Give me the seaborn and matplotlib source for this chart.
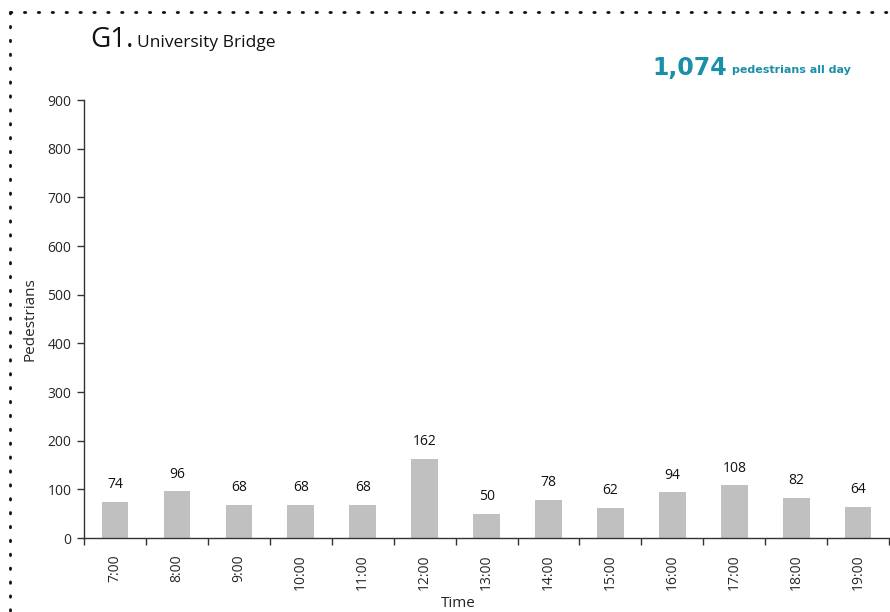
import matplotlib
matplotlib.use("Agg")
import matplotlib.pyplot as plt
import seaborn as sns
import pandas as pd
from matplotlib.lines import Line2D

# chart data
times = ["7:00", "8:00", "9:00", "10:00", "11:00", "12:00", "13:00",
         "14:00", "15:00", "16:00", "17:00", "18:00", "19:00"]
pedestrians = [74, 96, 68, 68, 68, 162, 50, 78, 62, 94, 108, 82, 64]
total_label = "1,074"

data = pd.DataFrame({"Time": times, "Pedestrians": pedestrians})

sns.set_style("white")
plt.rcParams["font.family"] = ["Open Sans", "DejaVu Sans"]

fig = plt.figure(figsize=(8.9, 6.12), dpi=100)
ax = fig.add_axes([0.0944, 0.1209, 0.9046, 0.7157])

sns.barplot(data=data, x="Time", y="Pedestrians", color="#c0c0c0",
            width=0.43, saturation=1, linewidth=0, ax=ax)

# value labels above bars
for i, v in enumerate(pedestrians):
    ax.annotate(str(v), (i, v), xytext=(0, 7), textcoords="offset points",
                ha="center", va="bottom", fontsize=10, color="#111111")

ax.set_ylim(0, 900)
ax.set_xlim(-0.5, len(times) - 0.5)
ax.set_yticks(range(0, 901, 100))
ax.tick_params(axis="y", labelsize=10, length=5, width=1, color="#333333",
               left=True, pad=4)
ax.set_xticks(range(len(times)))
ax.set_xticklabels(times, rotation=90, fontsize=10)
ax.tick_params(axis="x", which="major", length=0, pad=12)
ax.set_xticks([i - 0.5 for i in range(len(times) + 1)], minor=True)
ax.tick_params(axis="x", which="minor", length=5, width=1, color="#333333",
               bottom=True, direction="out")

for side in ["top", "right"]:
    ax.spines[side].set_visible(False)
for side in ["left", "bottom"]:
    ax.spines[side].set_color("#333333")
    ax.spines[side].set_linewidth(1)

ax.set_xlabel("Time", fontsize=11)
ax.set_ylabel("Pedestrians", fontsize=11)
ax.xaxis.set_label_coords(0.465, -0.133)
ax.yaxis.set_label_coords(-0.058, 0.5)

# titles
fig.text(0.101, 0.924, "G1.", fontsize=20, color="#111111")
fig.text(0.154, 0.924, "University Bridge", fontsize=12.5, color="#111111")
fig.text(0.733, 0.878, total_label, fontsize=17, fontweight="bold",
         color="#1a8fa8", family=["DejaVu Sans"])
fig.text(0.822, 0.880, "pedestrians all day", fontsize=8, fontweight="bold",
         color="#1a8fa8", family=["DejaVu Sans"])

# dotted frame
frame_style = dict(color="#111111", linewidth=2, linestyle=(0, (0.5, 4.5)),
                   solid_capstyle="round", dash_capstyle="round",
                   transform=fig.transFigure)
fig.add_artist(Line2D([0.011, 1.0], [0.981, 0.981], **frame_style))
fig.add_artist(Line2D([0.011, 0.011], [0.981, 0.0], **frame_style))

fig.savefig("out.png", dpi=100)
